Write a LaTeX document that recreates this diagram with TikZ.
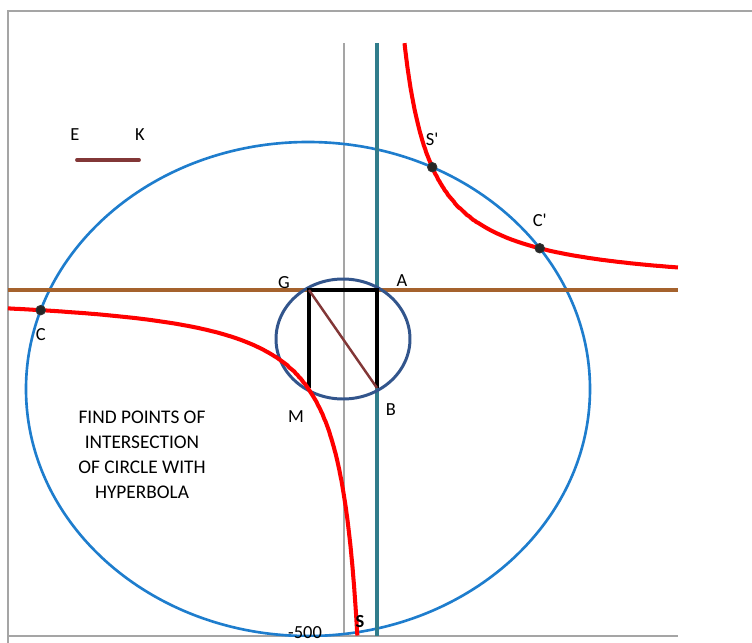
\documentclass[tikz,border=0pt]{standalone}
\usepackage{fontspec}
\setmainfont{Carlito}
\usetikzlibrary{positioning,intersections}

\definecolor{hypred}{RGB}{255,0,0}
\definecolor{circblue}{RGB}{30,125,205}
\definecolor{ringblue}{RGB}{50,85,140}
\definecolor{asymteal}{RGB}{49,125,140}
\definecolor{lineorange}{RGB}{165,98,45}
\definecolor{chordred}{RGB}{130,55,55}
\definecolor{framegray}{RGB}{165,165,165}

\begin{document}
\begin{tikzpicture}[x=0.02cm, y=-0.02cm,
  lab/.style={font=\fontsize{10.5}{12}\selectfont, inner sep=1pt},
  note/.style={font=\fontsize{11}{14.2}\selectfont, align=center},
  dot/.style={circle, draw=black!80, fill=black!85, line width=0.5pt, minimum size=1.9mm, inner sep=0pt},
  hyp/.style={hypred, line width=2.3pt},
  gridline/.style={framegray, line width=0.9pt},
  side/.style={black, line width=2.3pt}]
  \useasboundingbox (0,0) rectangle (752,643);
  % frame and axes
  \coordinate (frTR) at (752,11);
  \coordinate (frBL) at (8,643);
  \coordinate (axL) at (8,636);
  \coordinate (axR) at (678,636);
  \coordinate (yaxT) at (344,43);
  \coordinate (yaxB) at (344,636);
  \draw[framegray, line width=1.1pt] (frTR) -| (frBL);
  \draw[gridline] (axL) -- (axR);
  \draw[framegray, line width=0.6pt] (yaxT) -- (yaxB);
  % big circle, cut by the plot area
  \coordinate (ctr) at (308,389);
  \begin{scope}
    \clip (8,43) rectangle (678,636);
    \draw[name path global=bigc, circblue, line width=1.5pt] (ctr) ellipse [x radius=282, y radius=247];
  \end{scope}
  % asymptotes
  \coordinate (hL) at (8,290);
  \coordinate (hR) at (678,290);
  \coordinate (vT) at (377,43);
  \coordinate (vB) at (377,636);
  \draw[lineorange, line width=1.9pt] (hL) -- (hR);
  \draw[asymteal, line width=1.9pt] (vT) -- (vB);
  % small circle and rectangle
  \coordinate (G) at (309,290);
  \coordinate (A) at (377,290);
  \coordinate (B) at (377,388);
  \coordinate (M) at (309,388);
  \coordinate (mid) at (343,339);
  \draw[ringblue, line width=1.7pt] (mid) ellipse [x radius=67, y radius=60];
  \draw[side] (M) -- (G) -- (A) -- (B);
  \draw[chordred, line width=1.4pt] (G) -- (B);
  % hyperbola (x-377)(y-290)=-6800
  \draw[hyp, name path=hypup] plot[variable=\t, domain=3.315:5.707, samples=150] ({377+exp(\t)}, {290-6800*exp(-\t)});
  \draw[hyp, name path=hyplow] plot[variable=\t, domain=2.978:5.911, samples=150] ({377-exp(\t)}, {290+6800*exp(-\t)});
  % intersection points
  \path[name intersections={of=bigc and hypup, sort by=hypup, by={Sp,Cp}}];
  \path[name intersections={of=bigc and hyplow, sort by=hyplow, by={Sb,Cl}}];
  \node[dot] (dSp) at (Sp) {};
  \node[dot] (dCp) at (Cp) {};
  \node[dot] (dC) at (Cl) {};
  \node[lab, above=0.28cm of dSp] (lSp) {S\textquotesingle};
  \node[lab, above=0.28cm of dCp] (lCp) {C\textquotesingle};
  \node[lab, below=0.22cm of dC] (lC) {C};
  % labels
  \node[lab] (lG) at (284,283) {G};
  \node[lab] (lA) at (402,281) {A};
  \node[lab] (lM) at (296,417) {M};
  \node[lab] (lB) at (391,410) {B};
  \node[lab, font=\fontsize{10.5}{12}\selectfont\bfseries] (lS) at (360,622) {S};
  \node[lab] (lmin) at (305,633) {-500};
  % legend
  \node[lab] (lE) at (75,135) {E};
  \node[lab] (lK) at (140,135) {K};
  \coordinate (keyL) at (77,160);
  \coordinate (keyR) at (139,160);
  \draw[chordred, line width=2.2pt, line cap=round] (keyL) -- (keyR);
  \node[note] (task) at (142,455) {FIND POINTS OF\\INTERSECTION\\OF CIRCLE WITH\\HYPERBOLA};
\end{tikzpicture}
\end{document}
